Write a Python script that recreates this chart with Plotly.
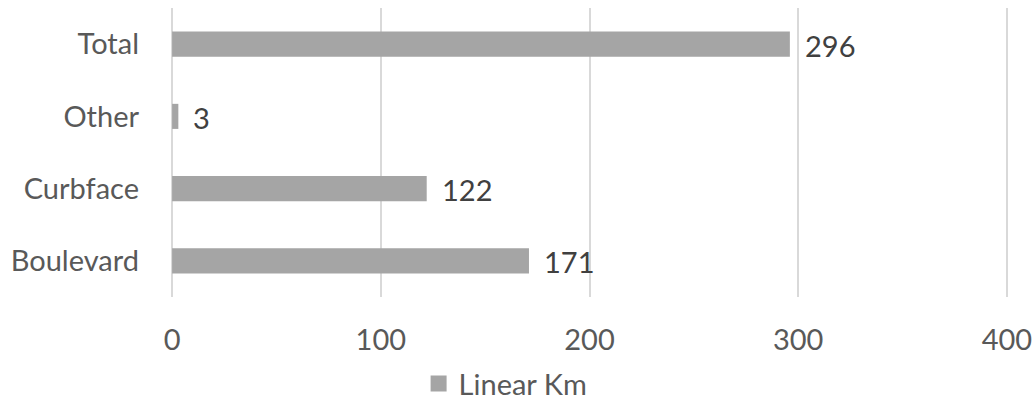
import plotly.graph_objects as go

# Linear kilometres by category (bottom to top)
categories = ["Boulevard", "Curbface", "Other", "Total"]
linear_km = [171, 122, 3, 296]
x_ticks = [0, 100, 200, 300, 400]
series_name = "Linear Km"

BAR_COLOR = "#A5A5A5"
GRID_COLOR = "#D9D9D9"
AXIS_TEXT = "#595959"
LABEL_TEXT = "#404040"
FONT = "Lato, 'Open Sans', sans-serif"
FSIZE = 29

fig = go.Figure()
fig.add_trace(go.Bar(
    y=categories,
    x=linear_km,
    orientation="h",
    name=series_name,
    marker=dict(color=BAR_COLOR, line=dict(width=0)),
    showlegend=False,
    hoverinfo="x+y",
))

# legend key: a larger square swatch in the bar colour
fig.add_trace(go.Scatter(
    x=[None], y=[None], mode="markers", name=series_name,
    marker=dict(symbol="square", size=19, color=BAR_COLOR),
    showlegend=True, hoverinfo="skip",
))

# value labels just past the end of each bar
for cat, val in zip(categories, linear_km):
    fig.add_annotation(
        x=val, y=cat, xref="x", yref="y",
        text=str(val), showarrow=False,
        xanchor="left", yanchor="middle", xshift=13, yshift=-1,
        font=dict(family=FONT, size=FSIZE, color=LABEL_TEXT),
    )

fig.update_layout(
    width=1033, height=404,
    margin=dict(l=170, r=24, t=8, b=107, autoexpand=False),
    paper_bgcolor="white", plot_bgcolor="white",
    bargap=0.653,
    font=dict(family=FONT, size=FSIZE, color=AXIS_TEXT),
    legend=dict(
        orientation="h", x=0.400, xanchor="center", y=-0.212, yanchor="top",
        font=dict(family=FONT, size=FSIZE, color=AXIS_TEXT),
        itemwidth=30,
    ),
    xaxis=dict(
        range=[-1, 401], tickvals=x_ticks, ticktext=[str(t) for t in x_ticks],
        showgrid=True, gridcolor=GRID_COLOR, gridwidth=2,
        zeroline=False, showline=False, ticks="",
        ticklabelstandoff=23, automargin=False,
        tickfont=dict(family=FONT, size=FSIZE, color=AXIS_TEXT),
        fixedrange=True,
    ),
    yaxis=dict(
        categoryorder="array", categoryarray=categories,
        range=[-0.5, 3.5],
        showgrid=False, zeroline=False, showline=False, ticks="",
        ticklabelstandoff=30, automargin=False,
        tickfont=dict(family=FONT, size=FSIZE, color=AXIS_TEXT),
        fixedrange=True,
    ),
)

fig.write_html("out.html")
